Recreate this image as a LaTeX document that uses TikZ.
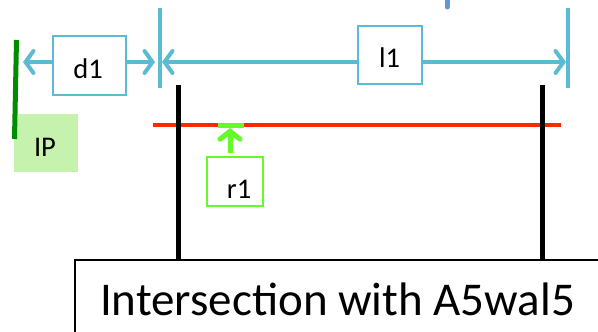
\documentclass[tikz,border=0pt]{standalone}
\usepackage{fontspec}
\setmainfont{Carlito}
\usetikzlibrary{arrows.meta}
\definecolor{dimc}{RGB}{91,187,211}
\definecolor{redl}{RGB}{255,40,0}
\definecolor{ipline}{RGB}{0,140,0}
\definecolor{ipfill}{RGB}{197,242,172}
\definecolor{rgreen}{RGB}{100,250,40}
\definecolor{topblue}{RGB}{100,150,210}
\tikzset{
  dimline/.style={draw=dimc, line width=4pt, line cap=round},
  dimtip/.style={-{Straight Barb[length=8pt,width=22pt,line width=4pt,line cap=round]}},
  labbox/.style={draw=dimc, line width=1.2pt, fill=white, inner sep=0pt},
  labtext/.style={font=\fontsize{28.5}{30}\selectfont, anchor=base, inner sep=0pt},
  wall/.style={draw=black, line width=5pt},
}
\begin{document}
\begin{tikzpicture}[x=1pt,y=-1pt]
\useasboundingbox (0,0) rectangle (598,332);
% small blue mark at top
\draw[topblue, line width=5pt, line cap=round] (447,-5) -- (447,7);
% red line
\coordinate (rl) at (153,125);
\coordinate (rr) at (561,125);
\draw[redl, line width=4.5pt] (rl) -- (rr);
% black walls
\coordinate (w1t) at (178,85);
\coordinate (w1b) at (178,260);
\coordinate (w2t) at (542,85);
\coordinate (w2b) at (542,260);
\draw[wall] (w1t) -- (w1b);
\draw[wall] (w2t) -- (w2b);
% green segment and r1
\coordinate (gsl) at (218,125);
\coordinate (gsr) at (244,125);
\draw[rgreen, line width=5pt] (gsl) -- (gsr);
\node[draw=rgreen, line width=1.2pt, minimum width=56pt, minimum height=49pt, inner sep=0pt] (r1) at (235,181.5) {};
\node[labtext] (r1t) at (239,198) {r1};
\coordinate (gtip) at (230,128);
\draw[rgreen, line width=5pt, -{Straight Barb[length=8pt,width=20pt,line width=5pt,line cap=round]}] (230,153) -- (gtip);
% ticks
\coordinate (t1a) at (160,8);
\coordinate (t1b) at (160,88);
\coordinate (t2a) at (568,8);
\coordinate (t2b) at (568,88);
\draw[dimline, line cap=butt] (t1a) -- (t1b);
\draw[dimline, line cap=butt] (t2a) -- (t2b);
% l1 dimension
\coordinate (l1a) at (162,62);
\coordinate (l1b) at (566,62);
\draw[dimline, dimtip] (390,62) -- (l1a);
\draw[dimline, dimtip] (390,62) -- (l1b);
\node[labbox, minimum width=64pt, minimum height=58pt] (l1) at (390,55) {};
\node[labtext] (l1t) at (389.5,67) {l1};
% d1 dimension
\coordinate (d1a) at (23,62);
\coordinate (d1b) at (155,62);
\draw[dimline, dimtip] (89,62) -- (d1a);
\draw[dimline, dimtip] (89,62) -- (d1b);
\node[labbox, minimum width=73pt, minimum height=59pt] (d1) at (89.5,65.5) {};
\node[labtext] (d1t) at (88,78) {d1};
% IP
\node[fill=ipfill, minimum width=64pt, minimum height=58pt, inner sep=0pt] (ip) at (46,143) {};
\node[labtext] (ipt) at (45,156) {IP};
\draw[ipline, line width=5pt] (16.5,40) -- (14.5,139);
% bottom box
\node[draw=black, line width=1.5pt, fill=white, minimum width=540pt, minimum height=100pt, anchor=north west, inner sep=0pt] (bb) at (74,259) {};
\node[font=\fontsize{47}{50}\selectfont, anchor=base, inner sep=0pt] (bt) at (337.5,315) {Intersection with A5wal5};
\end{tikzpicture}
\end{document}
